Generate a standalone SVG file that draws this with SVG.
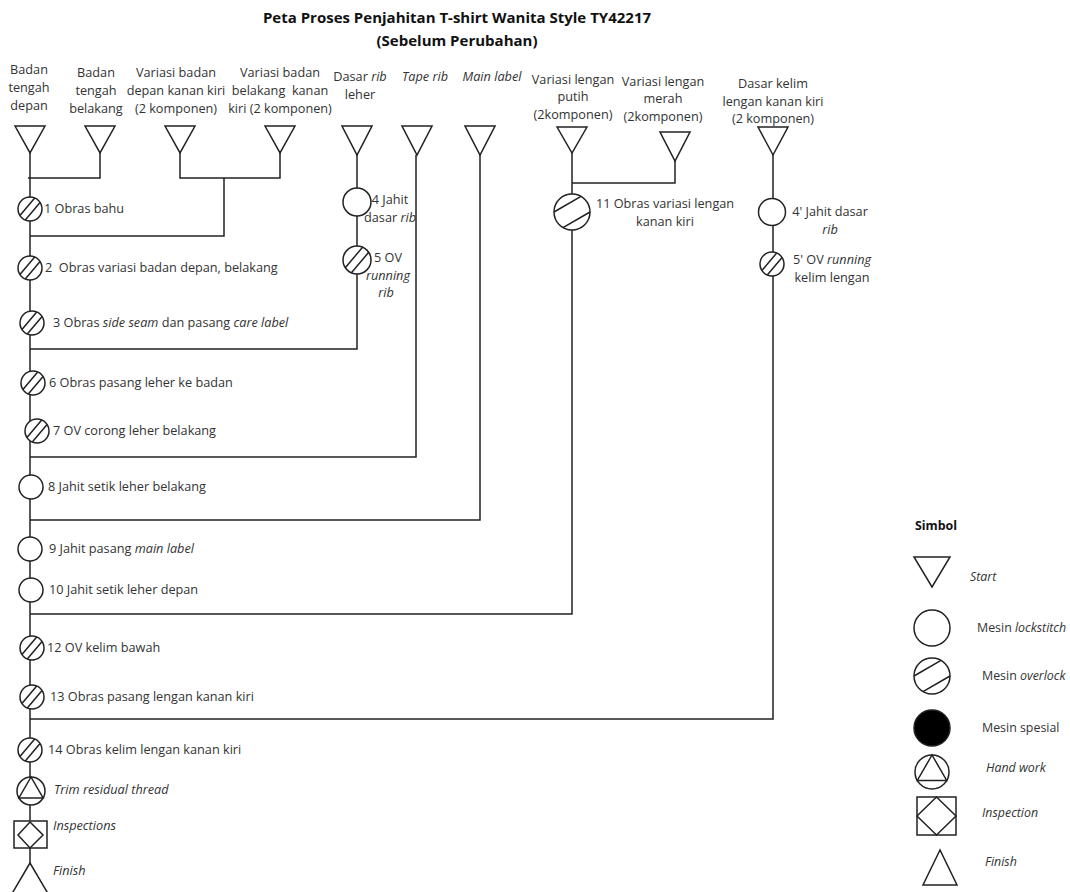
<svg xmlns="http://www.w3.org/2000/svg" xmlns:xlink="http://www.w3.org/1999/xlink" width="1070" height="892" viewBox="0 0 1070 892">
<style>
text{font-family:"Open Sans","Liberation Sans",sans-serif;font-size:12.7px;fill:#333}
.t{font-weight:bold;font-size:15px;fill:#111}
.c{text-anchor:middle}
.i{font-style:italic}
.p{white-space:pre}
.lg{font-size:12.4px}
.ln{stroke:#222;stroke-width:1.5;fill:none}
.sh{stroke:#222;stroke-width:1.5;fill:#fff}
</style>
<defs>
<g id="ov12"><circle r="12" class="sh"/><path class="ln" d="M-4.7,11.04L10.06,-6.54M-10.06,6.54L4.7,-11.04"/></g>
<g id="ov14"><circle r="14" class="sh"/><path class="ln" d="M-5.57,12.85L11.69,-7.71M-11.69,7.71L5.57,-12.85"/></g>
<g id="ov18"><circle r="18" class="sh"/><path class="ln" d="M-9,15.58L18,0M-18,0L9,-15.58"/></g>
<polygon id="st" class="sh" points="-15,0 15,0 0,28"/>
</defs>
<rect width="1070" height="892" fill="#fff"/>
<g id="title">
<text class="t c" x="457" y="23">Peta Proses Penjahitan T-shirt Wanita Style TY42217</text>
<text class="t c" x="457" y="46">(Sebelum Perubahan)</text>
</g>
<g id="connectors">
<line class="ln" x1="30" y1="153" x2="30" y2="864"/>
<polyline class="ln" points="28,178 100,178 100,153"/>
<polyline class="ln" points="180,153 180,178 280,178 280,153"/>
<polyline class="ln" points="224,178 224,236 30,236"/>
<polyline class="ln" points="357,155 357,349 30,349"/>
<polyline class="ln" points="416,155 416,457 30,457"/>
<polyline class="ln" points="480,155 480,520 30,520"/>
<polyline class="ln" points="572,153 572,614 30,614"/>
<polyline class="ln" points="572,183 675,183 675,160"/>
<polyline class="ln" points="773,155 773,719 30,719"/>
</g>
<g id="s1"><use href="#st" transform="translate(30,126) scale(1,0.96)"/><text class="c" x="29" y="74">Badan</text><text class="c" x="29" y="92">tengah</text><text class="c" x="29" y="110">depan</text></g>
<g id="s2"><use href="#st" transform="translate(100,126) scale(1,0.96)"/><text class="c" x="96" y="77">Badan</text><text class="c" x="96" y="95">tengah</text><text class="c" x="96" y="113">belakang</text></g>
<g id="s3"><use href="#st" transform="translate(180,126) scale(1,0.96)"/><text class="c" x="176" y="77">Variasi badan</text><text class="c" x="176" y="95">depan kanan kiri</text><text class="c" x="176" y="113">(2 komponen)</text></g>
<g id="s4"><use href="#st" transform="translate(280,126) scale(1,0.96)"/><text class="c" x="280" y="77">Variasi badan</text><text class="c p" x="280" y="95">belakang  kanan</text><text class="c" x="280" y="113">kiri (2 komponen)</text></g>
<g id="s5"><use href="#st" transform="translate(357,126) scale(1,1.04)"/><text class="c" x="360" y="81">Dasar <tspan class="i">rib</tspan></text><text class="c" x="360" y="99">leher</text></g>
<g id="s6"><use href="#st" transform="translate(417,126) scale(1,1.04)"/><text class="c i" x="425" y="81">Tape rib</text></g>
<g id="s7"><use href="#st" transform="translate(480,126) scale(1,1.04)"/><text class="c i" x="492" y="81">Main label</text></g>
<g id="s8"><use href="#st" transform="translate(572,127) scale(1,0.93)"/><text class="c" x="573" y="84">Variasi lengan</text><text class="c" x="573" y="101">putih</text><text class="c" x="573" y="119">(2komponen)</text></g>
<g id="s9"><use href="#st" transform="translate(675,132) scale(1,1.04)"/><text class="c" x="663" y="86">Variasi lengan</text><text class="c" x="663" y="103">merah</text><text class="c" x="663" y="121">(2komponen)</text></g>
<g id="s10"><use href="#st" transform="translate(773,127) scale(1,1)"/><text class="c" x="773" y="88">Dasar kelim</text><text class="c" x="773" y="106">lengan kanan kiri</text><text class="c" x="773" y="123">(2 komponen)</text></g>
<g id="n1"><use href="#ov12" x="30" y="209"/><text x="44" y="213">1 Obras bahu</text></g>
<g id="n2"><use href="#ov12" x="30" y="268"/><text class="p" x="45" y="272">2  Obras variasi badan depan, belakang</text></g>
<g id="n3"><use href="#ov12" x="32" y="323"/><text x="53" y="327">3 Obras <tspan class="i">side seam</tspan> dan pasang <tspan class="i">care label</tspan></text></g>
<g id="n4"><circle class="sh" cx="357" cy="202" r="14"/><text class="c" x="390" y="204">4 Jahit</text><text class="c" x="390" y="222">dasar <tspan class="i">rib</tspan></text></g>
<g id="n5"><use href="#ov14" x="357" y="260"/><text class="c" x="388" y="262">5 OV</text><text class="c i" x="388" y="280">running</text><text class="c i" x="386" y="297">rib</text></g>
<g id="n6"><use href="#ov12" x="33" y="383"/><text x="49" y="387">6 Obras pasang leher ke badan</text></g>
<g id="n7"><use href="#ov12" x="37" y="431"/><text x="53" y="435">7 OV corong leher belakang</text></g>
<g id="n8"><circle class="sh" cx="31" cy="487" r="12"/><text x="48" y="491">8 Jahit setik leher belakang</text></g>
<g id="n9"><circle class="sh" cx="30" cy="549" r="12"/><text x="49" y="553">9 Jahit pasang <tspan class="i">main label</tspan></text></g>
<g id="n10"><circle class="sh" cx="31" cy="590" r="12"/><text x="49" y="594">10 Jahit setik leher depan</text></g>
<g id="n11"><use href="#ov18" x="572" y="212"/><text class="c" x="665" y="208">11 Obras variasi lengan</text><text class="c" x="665" y="226">kanan kiri</text></g>
<g id="n4b"><circle class="sh" cx="772" cy="212" r="13.5"/><text class="c" x="830" y="216">4' Jahit dasar</text><text class="c i" x="830" y="234">rib</text></g>
<g id="n5b"><use href="#ov12" x="772" y="264"/><text class="c" x="832" y="264">5' OV <tspan class="i">running</tspan></text><text class="c" x="832" y="282">kelim lengan</text></g>
<g id="n12"><use href="#ov12" x="32" y="648"/><text x="47" y="652">12 OV kelim bawah</text></g>
<g id="n13"><use href="#ov12" x="32" y="697"/><text x="50" y="701">13 Obras pasang lengan kanan kiri</text></g>
<g id="n14"><use href="#ov12" x="30" y="750"/><text x="48" y="754">14 Obras kelim lengan kanan kiri</text></g>
<g id="trim"><circle class="sh" cx="31" cy="791" r="14"/><polygon class="ln" points="31,777 18.9,798 43.1,798"/><text class="i" x="54" y="794">Trim residual thread</text></g>
<g id="insp"><rect class="sh" x="14" y="821" width="33" height="27"/><polygon class="ln" points="30,822 43,835 30,848 18,835"/><text class="i" x="53" y="830">Inspections</text></g>
<g id="finish"><polygon class="sh" points="30,863 10,897 50,897"/><text class="i" x="53" y="875">Finish</text></g>
<g id="legend">
<text class="lg" x="915" y="530" style="font-weight:bold;fill:#111">Simbol</text>
<polygon class="sh" points="914,557 950,557 932,587"/><text class="i lg" x="970" y="581">Start</text>
<circle class="sh" cx="932" cy="628" r="18"/><text class="lg" x="977" y="632">Mesin <tspan class="i">lockstitch</tspan></text>
<use href="#ov18" x="932" y="676"/><text class="lg" x="982" y="680">Mesin <tspan class="i">overlock</tspan></text>
<circle cx="932" cy="728" r="18" fill="#000" stroke="#222" stroke-width="1.5"/><text class="lg" x="982" y="732">Mesin spesial</text>
<circle class="sh" cx="932" cy="772" r="17"/><polygon class="ln" points="932,755 917.3,780.5 946.7,780.5"/><text class="i lg" x="986" y="772">Hand work</text>
<rect class="sh" x="917" y="797" width="39" height="38"/><polygon class="ln" points="936.5,797 956,816 936.5,835 917,816"/><text class="i lg" x="982" y="817">Inspection</text>
<polygon class="sh" points="940,850 923,885 957,885"/><text class="i lg" x="985" y="866">Finish</text>
</g>
</svg>
